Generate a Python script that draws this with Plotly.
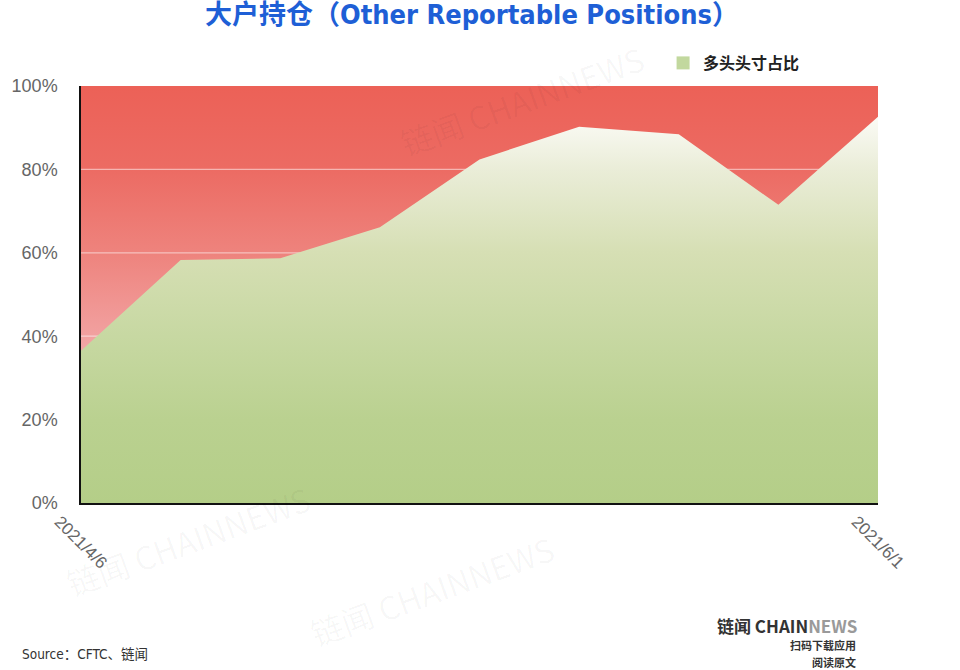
import plotly.graph_objects as go

dates = ["2021/4/6", "2021/4/13", "2021/4/20", "2021/4/27", "2021/5/4",
         "2021/5/11", "2021/5/18", "2021/5/25", "2021/6/1"]
long_share = [36.5, 58.3, 58.7, 66.1, 82.4, 90.2, 88.4, 71.5, 92.6]
y_ticks = [0, 20, 40, 60, 80, 100]
y_tick_text = ["0%", "20%", "40%", "60%", "80%", "100%"]
x_tick_labels = ["2021/4/6", "2021/6/1"]

L, R, T, B = 77, 82, 86, 167
W, H = 960, 670
pw, ph = W - L - R, H - T - B


def pxx(x):
    return (x - L) / pw


def pyy(y):
    return (H - B - y) / ph


fig = go.Figure()

# red background (short side) – full 100% band with gradient
fig.add_trace(go.Scatter(
    x=dates, y=[100] * len(dates), mode="lines", line=dict(width=0),
    fill="tozeroy", fillcolor="#EC6A62",
    fillgradient=dict(type="vertical", start=0, stop=100,
                      colorscale=[[0, "#F6C4C4"], [0.37, "#F2A5A5"], [0.6, "#EE837D"],
                                  [0.8, "#EC6B63"], [1, "#EC6157"]]),
    showlegend=False, hoverinfo="skip"))

# gridlines drawn between the red band and the green area
for v in y_ticks[1:-1]:
    fig.add_trace(go.Scatter(
        x=[dates[0], dates[-1]], y=[v, v], mode="lines",
        line=dict(color="rgba(255,255,255,0.5)", width=1.2),
        showlegend=False, hoverinfo="skip"))

# green area (long share)
fig.add_trace(go.Scatter(
    x=dates, y=long_share, mode="lines", line=dict(width=0),
    fill="tozeroy", fillcolor="#C8D8A0",
    fillgradient=dict(type="vertical", start=0, stop=100,
                      colorscale=[[0, "#B4CE88"], [0.2, "#BAD190"], [0.4, "#C7D8A2"],
                                  [0.6, "#D6DFB4"], [0.8, "#EAEDD8"], [0.92, "#FAFAF4"],
                                  [1, "#FFFFFF"]]),
    showlegend=False, name="多头头寸占比", hoverinfo="skip"))

# legend entry
fig.add_trace(go.Scatter(
    x=[None], y=[None], mode="markers", name="<b>多头头寸占比</b>",
    marker=dict(symbol="square", size=13, color="#C2D89E"), showlegend=True))

annotations = []
# faint watermarks
for (px, py) in [(520, 100), (430, 590), (185, 540)]:
    annotations.append(dict(
        text="链闻 CHAINNEWS", x=pxx(px), y=pyy(py), xref="paper", yref="paper",
        xanchor="center", yanchor="middle",
        showarrow=False, textangle=-20,
        font=dict(family="Noto Sans CJK SC, DejaVu Sans", size=32, color="rgba(0,0,0,0.035)")))

# rotated x tick labels, centred under their ticks
for lab in x_tick_labels:
    annotations.append(dict(
        text=lab, x=lab, y=pyy(542), xref="x", yref="paper", showarrow=False,
        xanchor="center", yanchor="middle",
        textangle=45, font=dict(family="Liberation Sans, Arial", size=17, color="#666666")))

annotations += [
    dict(text="Source：CFTC、链闻", x=pxx(16), y=pyy(654), xref="paper", yref="paper",
         xanchor="left", yanchor="middle", showarrow=False,
         font=dict(family="DejaVu Sans Condensed, Noto Sans CJK SC", size=13.5, color="#333333")),
    dict(text="<b>链闻 CHAIN</b><b><span style='color:#9a9a9a'>NEWS</span></b>",
         x=pxx(859), y=pyy(625), xref="paper", yref="paper",
         xanchor="right", yanchor="middle", showarrow=False,
         font=dict(family="Noto Sans CJK SC, Roboto", size=17, color="#333333")),
    dict(text="<b>扫码下载应用</b>", x=pxx(858), y=pyy(645), xref="paper", yref="paper",
         xanchor="right", yanchor="middle", showarrow=False,
         font=dict(family="Noto Sans CJK SC", size=11, color="#333333")),
    dict(text="<b>阅读原文</b>", x=pxx(858), y=pyy(662), xref="paper", yref="paper",
         xanchor="right", yanchor="middle", showarrow=False,
         font=dict(family="Noto Sans CJK SC", size=11, color="#333333")),
]

fig.update_layout(
    width=W, height=H,
    margin=dict(l=L, r=R, t=T, b=B),
    paper_bgcolor="white", plot_bgcolor="white",
    title=dict(text="<b>大户持仓（Other Reportable Positions）</b>",
               x=472 / W, xanchor="center", y=1 - 15 / H, yanchor="middle",
               font=dict(family="DejaVu Sans Condensed, Noto Sans CJK SC", size=27, color="#1E5FD6")),
    legend=dict(x=pxx(662), y=pyy(63), xanchor="left", yanchor="middle",
                bgcolor="rgba(0,0,0,0)", itemwidth=30,
                font=dict(family="Noto Sans CJK SC", size=16, color="#222222")),
    xaxis=dict(type="category", range=[0, len(dates) - 1], showgrid=False,
               showticklabels=False, showline=True, linecolor="#111111", linewidth=1.5,
               ticks="", zeroline=False),
    yaxis=dict(range=[0, 100], tickmode="array", tickvals=y_ticks, ticktext=y_tick_text,
               showgrid=False, showline=True, linecolor="#111111", linewidth=1.5,
               ticks="", ticklabelstandoff=18,
               tickfont=dict(family="Liberation Sans, Arial", size=18, color="#666666"),
               zeroline=False),
    annotations=annotations,
)

fig.write_html("out.html", post_script="document.body.style.margin='0';",
               config={"displayModeBar": False})
